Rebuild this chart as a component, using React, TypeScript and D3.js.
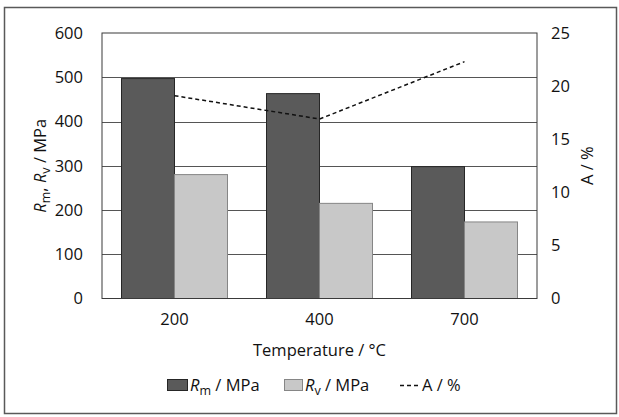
import { useEffect, useRef } from 'react'
import * as d3 from 'd3'

// chart data
const temperatures = ['200', '400', '700']
const rmValues = [497, 463, 298]
const rvValues = [280, 215, 173]
const elongation = [19.1, 16.9, 22.3]
const leftTicks = [0, 100, 200, 300, 400, 500, 600]
const rightTicks = [0, 5, 10, 15, 20, 25]

const FONT = '"Open Sans", "Liberation Sans", sans-serif'
const FS = '16.5px'
const SUB = '12.5px'
const W = 619
const H = 417

const App = () => {
  const svgRef = useRef<SVGSVGElement | null>(null)

  useEffect(() => {
    if (!svgRef.current) return
    const svg = d3.select(svgRef.current)
    svg.selectAll('*').remove()

    const plot = { left: 102, right: 537, top: 33, bottom: 298.5 }

    // outer frame
    svg.append('rect')
      .attr('x', 4.5).attr('y', 7.5)
      .attr('width', 612).attr('height', 406)
      .attr('fill', 'white')
      .attr('stroke', '#595959')
      .attr('stroke-width', 1.5)

    const x0 = d3.scaleBand()
      .domain(temperatures)
      .range([plot.left, plot.right])
      .paddingInner(0.269)
      .paddingOuter(0.1345)
    const x1 = d3.scaleBand()
      .domain(['rm', 'rv'])
      .range([0, x0.bandwidth()])
    const yL = d3.scaleLinear().domain([0, 600]).range([plot.bottom, plot.top])
    const yR = d3.scaleLinear().domain([0, 25]).range([plot.bottom, plot.top])

    // gridlines
    svg.append('g')
      .selectAll('line')
      .data(leftTicks.filter((d) => d > 0 && d < 600))
      .enter()
      .append('line')
      .attr('x1', plot.left).attr('x2', plot.right)
      .attr('y1', (d) => Math.round(yL(d)) + 0.5)
      .attr('y2', (d) => Math.round(yL(d)) + 0.5)
      .attr('stroke', '#555')
      .attr('stroke-width', 1)

    // bars
    const rows = temperatures.map((t, i) => ({ t, rm: rmValues[i], rv: rvValues[i] }))
    const groups = svg.append('g')
      .selectAll('g')
      .data(rows)
      .enter()
      .append('g')
      .attr('transform', (d) => `translate(${x0(d.t)},0)`)

    groups.append('rect')
      .attr('x', x1('rm')!)
      .attr('y', (d) => yL(d.rm))
      .attr('width', x1.bandwidth())
      .attr('height', (d) => yL(0) - yL(d.rm))
      .attr('fill', '#5a5a5a')
      .attr('stroke', '#262626')
      .attr('stroke-width', 1)

    groups.append('rect')
      .attr('x', x1('rv')!)
      .attr('y', (d) => yL(d.rv))
      .attr('width', x1.bandwidth())
      .attr('height', (d) => yL(0) - yL(d.rv))
      .attr('fill', '#c8c8c8')
      .attr('stroke', '#868686')
      .attr('stroke-width', 1)

    // plot border
    svg.append('rect')
      .attr('x', plot.left).attr('y', plot.top)
      .attr('width', plot.right - plot.left)
      .attr('height', plot.bottom - plot.top)
      .attr('fill', 'none')
      .attr('stroke', '#3a3a3a')
      .attr('stroke-width', 1)

    // A / % line
    const line = d3.line<number>()
      .x((_, i) => x0(temperatures[i])! + x0.bandwidth() / 2)
      .y((d) => yR(d))
    svg.append('path')
      .datum(elongation)
      .attr('d', line)
      .attr('fill', 'none')
      .attr('stroke', '#111')
      .attr('stroke-width', 1.5)
      .attr('stroke-dasharray', '4,3')

    // axes
    const styleAxis = (g: d3.Selection<SVGGElement, unknown, null, undefined>) => {
      g.select('.domain').remove()
      g.selectAll('text')
        .style('font-size', FS)
        .style('font-family', FONT)
        .style('fill', '#111')
    }

    svg.append('g')
      .attr('transform', `translate(${plot.left},0)`)
      .call(d3.axisLeft(yL).tickValues(leftTicks).tickSize(0).tickPadding(19))
      .call(styleAxis)

    svg.append('g')
      .attr('transform', `translate(${plot.right},0)`)
      .call(d3.axisRight(yR).tickValues(rightTicks).tickSize(0).tickPadding(14))
      .call(styleAxis)

    svg.append('g')
      .attr('transform', `translate(0,${plot.bottom})`)
      .call(d3.axisBottom(x0).tickSize(0).tickPadding(15))
      .call(styleAxis)

    // axis titles
    const base = (sel: d3.Selection<SVGTextElement, unknown, null, undefined>) =>
      sel.style('font-size', FS).style('font-family', FONT).style('fill', '#111')

    svg.append('text')
      .attr('x', (plot.left + plot.right) / 2)
      .attr('y', 356)
      .attr('text-anchor', 'middle')
      .call(base)
      .text('Temperature / °C')

    const lt = svg.append('text')
      .attr('transform', `translate(46,${(plot.top + plot.bottom) / 2}) rotate(-90)`)
      .attr('text-anchor', 'middle')
      .call(base)
    lt.append('tspan').style('font-style', 'italic').text('R')
    lt.append('tspan').attr('dy', 4).style('font-size', SUB).text('m')
    lt.append('tspan').attr('dy', -4).text(', ')
    lt.append('tspan').style('font-style', 'italic').text('R')
    lt.append('tspan').attr('dy', 4).style('font-size', SUB).text('v')
    lt.append('tspan').attr('dy', -4).text(' / MPa')

    svg.append('text')
      .attr('transform', `translate(593,${(plot.top + plot.bottom) / 2}) rotate(-90)`)
      .attr('text-anchor', 'middle')
      .call(base)
      .text('A / %')

    // legend
    const ly = 385
    const legend = svg.append('g')
    legend.append('rect')
      .attr('x', 167.5).attr('y', ly - 5.5)
      .attr('width', 20).attr('height', 11)
      .attr('fill', '#5a5a5a').attr('stroke', '#262626')
    const l1 = legend.append('text').attr('x', 190).attr('y', ly + 6).call(base)
    l1.append('tspan').style('font-style', 'italic').text('R')
    l1.append('tspan').attr('dy', 4).style('font-size', SUB).text('m')
    l1.append('tspan').attr('dy', -4).text('  / MPa')

    legend.append('rect')
      .attr('x', 284.5).attr('y', ly - 5.5)
      .attr('width', 18).attr('height', 11)
      .attr('fill', '#c8c8c8').attr('stroke', '#868686')
    const l2 = legend.append('text').attr('x', 305).attr('y', ly + 6).call(base)
    l2.append('tspan').style('font-style', 'italic').text('R')
    l2.append('tspan').attr('dy', 4).style('font-size', SUB).text('v')
    l2.append('tspan').attr('dy', -4).text(' / MPa')

    legend.append('line')
      .attr('x1', 400).attr('x2', 420)
      .attr('y1', ly + 0.5).attr('y2', ly + 0.5)
      .attr('stroke', '#111').attr('stroke-width', 1.5)
      .attr('stroke-dasharray', '4,3')
    legend.append('text').attr('x', 422).attr('y', ly + 6).call(base).text('A / %')
  }, [])

  return (
    <svg
      ref={svgRef}
      width={W}
      height={H}
      style={{ position: 'absolute', left: 0, top: 0, background: 'white' }}
    />
  )
}

export default App
